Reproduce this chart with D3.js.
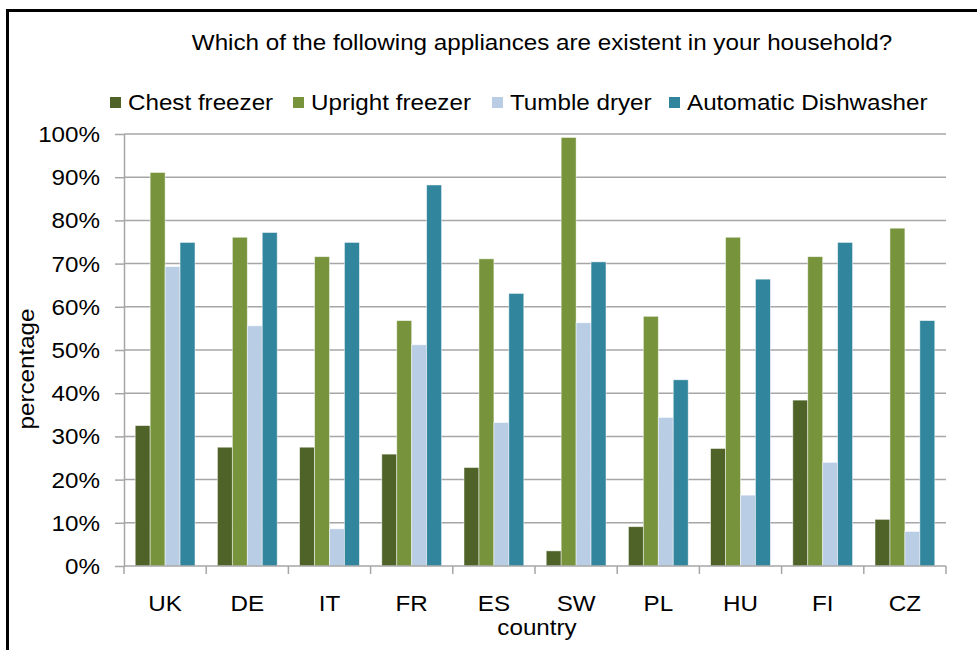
<!DOCTYPE html>
<html>
<head>
<meta charset="utf-8">
<script src="https://cdn.jsdelivr.net/npm/d3@7"></script>
<style>
  body { margin: 0; background: #fff; }
  text { font-family: "Liberation Sans", Arial, sans-serif; fill: #000; }
</style>
</head>
<body>
<div id="chart"></div>
<script>
// Data (percent)
var countries = ["UK", "DE", "IT", "FR", "ES", "SW", "PL", "HU", "FI", "CZ"];
var seriesNames = ["Chest freezer", "Upright freezer", "Tumble dryer", "Automatic Dishwasher"];
var chestFreezer   = [32.5, 27.5, 27.5, 25.9, 22.8,  3.5,  9.1, 27.2, 38.4, 10.8];
var uprightFreezer = [91.1, 76.1, 71.6, 56.8, 71.1, 99.2, 57.8, 76.1, 71.6, 78.2];
var tumbleDryer    = [69.3, 55.6,  8.6, 51.2, 33.2, 56.3, 34.4, 16.4, 24.0,  8.0];
var dishwasher     = [74.9, 77.2, 74.9, 88.2, 63.1, 70.4, 43.1, 66.4, 74.9, 56.8];
var yTicks = [0, 10, 20, 30, 40, 50, 60, 70, 80, 90, 100];
var colors = ["#4F6228", "#77933C", "#B9CDE5", "#31859C"];

var seriesValues = [chestFreezer, uprightFreezer, tumbleDryer, dishwasher];

var svgWidth = 977;
var svgHeight = 650;

// plot area
var plot = { left: 124, right: 946, top: 134, bottom: 566 };

// the original text is a bit wider than the font, stretch it
var fontSize = 22;
var stretch = 1.1;

var svg = d3.select("#chart")
  .append("svg")
  .attr("width", svgWidth)
  .attr("height", svgHeight);

// helper: text stretched horizontally around its anchor point
function addText(parent, x, y, str, anchor, angle) {
  return parent.append("text")
    .attr("transform", `translate(${x}, ${y}) rotate(${angle || 0}) scale(${stretch}, 1)`)
    .attr("text-anchor", anchor || "start")
    .attr("font-size", fontSize)
    .text(str);
}

// outer frame
svg.append("rect")
  .attr("x", 7.5)
  .attr("y", 10.5)
  .attr("width", 1100)
  .attr("height", 800)
  .attr("fill", "none")
  .attr("stroke", "#000")
  .attr("stroke-width", 3);

// scales
var xScale = d3.scaleBand()
  .domain(countries)
  .range([plot.left, plot.right])
  .paddingInner(0)
  .paddingOuter(0);

var barWidth = xScale.bandwidth() / 5.5;
var groupOffset = (xScale.bandwidth() - 4 * barWidth) / 2;

var xSeries = d3.scaleBand()
  .domain(seriesNames)
  .range([0, 4 * barWidth]);

var yScale = d3.scaleLinear()
  .domain([0, 100])
  .range([plot.bottom, plot.top]);

// gridlines
svg.append("g")
  .selectAll("line")
  .data(yTicks.filter(d => d > 0))
  .enter()
  .append("line")
  .attr("x1", plot.left)
  .attr("x2", plot.right)
  .attr("y1", d => yScale(d))
  .attr("y2", d => yScale(d))
  .attr("stroke", "#a6a6a6")
  .attr("stroke-width", 1.5);

// y axis (ticks only, labels drawn below)
var leftAxis = d3.axisLeft(yScale)
  .tickValues(yTicks)
  .tickSize(9)
  .tickSizeOuter(0)
  .tickFormat("");

var yAxis = svg.append("g")
  .attr("transform", `translate(${plot.left}, 0)`)
  .call(leftAxis);
yAxis.selectAll("line").attr("stroke", "#a6a6a6").attr("stroke-width", 1.5);
yAxis.select(".domain").attr("stroke", "#a6a6a6").attr("stroke-width", 1.5);

var yLabels = svg.append("g");
yTicks.forEach(function(t) {
  addText(yLabels, 100, yScale(t) + 8, t + "%", "end");
});

// bars
var groups = svg.append("g")
  .selectAll("g")
  .data(countries)
  .enter()
  .append("g")
  .attr("transform", d => `translate(${xScale(d) + groupOffset}, 0)`);

groups.selectAll("rect")
  .data((c, i) => seriesNames.map((s, j) => ({ series: s, value: seriesValues[j][i], color: colors[j] })))
  .enter()
  .append("rect")
  .attr("x", d => xSeries(d.series))
  .attr("y", d => yScale(d.value))
  .attr("width", xSeries.bandwidth())
  .attr("height", d => plot.bottom - yScale(d.value))
  .attr("fill", d => d.color)
  .attr("stroke", "#ffffff")
  .attr("stroke-opacity", 0.6)
  .attr("stroke-width", 0.8);

// x axis (ticks at category boundaries)
var bottomAxisLine = svg.append("g");
bottomAxisLine.append("line")
  .attr("x1", plot.left)
  .attr("x2", plot.right)
  .attr("y1", plot.bottom)
  .attr("y2", plot.bottom)
  .attr("stroke", "#a6a6a6")
  .attr("stroke-width", 1.5);

bottomAxisLine.selectAll(".xtick")
  .data(countries.concat(["end"]))
  .enter()
  .append("line")
  .attr("class", "xtick")
  .attr("x1", d => d === "end" ? plot.right : xScale(d))
  .attr("x2", d => d === "end" ? plot.right : xScale(d))
  .attr("y1", plot.bottom)
  .attr("y2", plot.bottom + 8)
  .attr("stroke", "#a6a6a6")
  .attr("stroke-width", 1.5);

var xLabels = svg.append("g");
countries.forEach(function(c) {
  addText(xLabels, xScale(c) + xScale.bandwidth() / 2, 611, c, "middle");
});

// axis titles
addText(svg, 537, 635, "country", "middle");
addText(svg, 34, 369, "percentage", "middle", -90);

// title
addText(svg, 542, 50, "Which of the following appliances are existent in your household?", "middle");

// legend
var legendX = [110, 293, 492, 669];
var legend = svg.append("g");
seriesNames.forEach(function(name, i) {
  legend.append("rect")
    .attr("x", legendX[i])
    .attr("y", 97)
    .attr("width", 11)
    .attr("height", 11)
    .attr("fill", colors[i]);
  addText(legend, legendX[i] + 18, 110, name, "start");
});
</script>
</body>
</html>
